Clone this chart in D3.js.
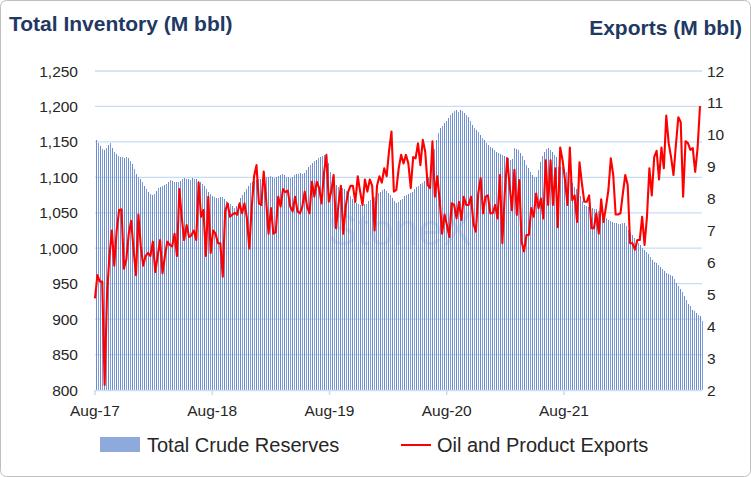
<!DOCTYPE html>
<html>
<head>
<meta charset="utf-8">
<script src="https://cdn.jsdelivr.net/npm/d3@7"></script>
<style>
  body { margin: 0; background: #fff; }
  text { font-family: "Liberation Sans", Arial, sans-serif; }
</style>
</head>
<body>
<svg id="chart" width="751" height="477"></svg>
<script>
// weekly total crude reserves (M bbl)
const reserves = [
  1153,1149,1144,1140,1138,1142,1145,1148,1142,1136,1133,1130,1128,1128,1127,1128,1127,1123,1119,1112,1105,1101,1098,1093,1088,1084,1080,1077,1075,1077,1081,1085,1087,1088,1089,1091,1094,1096,1095,1094,1094,1093,1095,1097,1099,1098,1097,1096,1099,1098,1097,1095,1094,1091,1088,1084,1080,1077,1074,1072,1071,1071,1072,1072,1070,1066,1064,1063,1060,1057,1060,1063,1071,1075,1079,
  1084,1088,1092,1093,1095,1096,1097,1097,1098,1099,1100,1101,1102,1100,1099,1100,1102,1103,1104,1103,1101,1100,1099,1101,1103,1104,1105,1106,1105,1106,1110,1115,1118,1120,1123,1125,1127,1129,1130,1132,1132,1120,1108,1101,1094,1089,1087,1086,1085,1083,1081,1078,1074,1070,1066,1064,1062,1061,1061,1062,1063,1066,1068,1070,1072,1075,1078,1080,1082,1083,1081,1078,1075,1071,1067,1064,1065,1068,
  1070,1073,1075,1077,1078,1080,1083,1087,1088,1090,1092,1095,1098,1101,1110,1125,1140,1153,1163,1169,1172,1176,1179,1184,1188,1191,1193,1195,1192,1195,1193,1191,1188,1185,1180,1174,1170,1167,1164,1160,1156,1152,1148,1146,1143,1141,1139,1136,1134,1133,1132,1130,1129,1127,1125,1126,1141,1140,1138,1134,1130,1124,1118,1113,1108,1103,1101,1100,1110,1122,1130,1136,1140,1141,1139,1136,1132,1128,
  1114,1115,1115,1112,1108,1104,1098,1092,1087,1083,1078,1073,1067,1061,1059,1058,1057,1057,1056,1055,1052,1048,1045,1044,1042,1040,1039,1037,1035,1035,1034,1034,1035,1035,1032,1026,1022,1018,1014,1010,1007,1004,1000,997,995,992,988,984,981,979,977,974,970,968,965,963,962,961,957,951,947,943,938,932,927,922,918,913,911,908,906,904,897
];

// weekly oil and product exports (M bbl)
const exportsSeries = [
  4.87,5.6,5.4,5.4,2.16,5.03,6.2,7.0,5.9,7.0,7.64,7.66,5.8,6.1,6.9,7.3,6.4,5.6,7.5,6.5,5.9,6.2,6.3,6.2,6.65,5.7,6.2,6.7,5.66,6.2,6.65,6.55,6.5,6.9,6.2,8.3,7.4,6.7,7.17,6.8,6.85,7.0,6.7,8.5,7.43,7.64,6.2,8.06,6.3,7.0,6.9,6.6,6.6,5.55,7.6,7.85,7.43,7.5,7.55,7.5,7.85,
  7.54,7.85,7.4,6.44,7.7,8.7,9.05,7.85,7.8,8.85,7.95,6.9,7.7,6.9,6.95,8.06,7.75,8.3,8.2,8.25,7.75,7.6,8.06,7.6,7.54,7.75,8.22,7.75,7.54,8.53,8.06,8.53,8.33,7.85,8.8,9.37,7.9,8.22,8.74,7.07,7.8,8.4,6.9,7.75,8.2,8.4,8.4,7.9,8.7,8.22,7.8,8.6,8.22,8.6,8.4,7.0,8.4,8.7,8.5,8.95,8.7,9.5,10.1,8.22,8.27,8.95,9.37,9.1,
  9.37,9.1,8.33,9.3,9.26,9.73,9.05,9.84,9.47,8.43,8.33,9.8,8.06,8.7,7.95,6.9,7.5,7.17,6.8,7.85,7.8,7.38,7.9,7.33,8.06,7.8,7.8,8.06,7.22,6.96,8.16,8.64,7.54,8.06,8.1,7.54,7.54,7.8,7.38,8.74,6.6,8.16,9.26,8.43,7.64,8.9,7.49,8.58,6.65,6.34,6.86,6.86,7.7,7.43,8.16,7.7,8.0,7.38,9.2,7.8,
  9.2,7.8,8.95,7.1,9.6,9.2,8.58,7.8,9.6,7.95,8.1,7.27,9.14,8.48,7.9,7.9,8.1,7.07,7.07,7.54,6.9,7.98,7.27,7.75,8.27,9.26,8.74,7.5,7.5,7.54,8.16,8.74,8.43,6.6,6.6,6.4,6.7,6.7,7.43,6.55,7.43,8.95,8.1,9.3,9.5,8.6,9.6,8.95,10.6,9.74,9.3,8.74,9.68,10.55,10.4,8.06,9.8,9.74,9.53,9.58,8.84,9.58,10.9
];

const xTickLabels = ["Aug-17", "Aug-18", "Aug-19", "Aug-20", "Aug-21"];
const leftTicks = [800, 850, 900, 950, 1000, 1050, 1100, 1150, 1200, 1250];
const rightTicks = [2, 3, 4, 5, 6, 7, 8, 9, 10, 11, 12];

const svg = d3.select("#chart");
const plotLeft = 95, plotRight = 702, plotTop = 71, plotBottom = 390;

// outer frame
svg.append("rect")
  .attr("x", 0.5).attr("y", 0.5).attr("width", 750).attr("height", 476)
  .attr("rx", 6).attr("fill", "#fff").attr("stroke", "#bfbfbf");

const yL = d3.scaleLinear().domain([800, 1250]).range([plotBottom, plotTop]);
const yR = d3.scaleLinear().domain([2, 12]).range([plotBottom, plotTop]);
// one bar every 2 px so the stripes stay even
const xBar = d3.scaleLinear().domain([0, reserves.length - 1])
  .range([plotLeft + 1, plotLeft + 1 + 2 * (reserves.length - 1)]);
const xLine = d3.scaleLinear().domain([0, exportsSeries.length - 1]).range([plotLeft, plotRight - 2]);
const xTick = d3.scaleLinear().domain([0, 4]).range([plotLeft, 564]);

// gridlines
svg.append("g").selectAll("line").data(leftTicks.slice(1)).join("line")
  .attr("x1", plotLeft).attr("x2", plotRight)
  .attr("y1", d => yL(d)).attr("y2", d => yL(d))
  .attr("stroke", "#c6ddf2").attr("stroke-width", 1.3);

// watermark
svg.append("text").attr("x", 400).attr("y", 245).attr("text-anchor", "middle")
  .attr("font-size", 44).attr("font-family", "Liberation Serif")
  .attr("fill", "#9fb2d4").attr("opacity", 0.35).text("StoneX");

// bars
svg.append("g").attr("shape-rendering", "crispEdges")
  .selectAll("rect").data(reserves).join("rect")
  .attr("x", (d, i) => xBar(i))
  .attr("width", 1)
  .attr("y", d => yL(d))
  .attr("height", d => yL(800) - yL(d))
  .attr("fill", (d, i) => i % 2 ? "#7d9bd6" : "#6a8bcf");

// x axis
svg.append("line").attr("x1", plotLeft).attr("x2", plotRight)
  .attr("y1", plotBottom + 0.5).attr("y2", plotBottom + 0.5)
  .attr("stroke", "#c6ddf2").attr("stroke-width", 1.5);
svg.append("g").selectAll("line").data(xTickLabels).join("line")
  .attr("x1", (d, i) => xTick(i)).attr("x2", (d, i) => xTick(i))
  .attr("y1", plotBottom).attr("y2", plotBottom + 5)
  .attr("stroke", "#c6ddf2").attr("stroke-width", 1.5);
svg.append("g").selectAll("text").data(xTickLabels).join("text")
  .attr("x", (d, i) => xTick(i)).attr("y", 416)
  .attr("text-anchor", "middle").attr("font-size", 15.5).attr("fill", "#262626")
  .text(d => d);

// export line
svg.append("path").datum(exportsSeries)
  .attr("fill", "none").attr("stroke", "#ff0000").attr("stroke-width", 2.1)
  .attr("stroke-linejoin", "round")
  .attr("d", d3.line().x((d, i) => xLine(i)).y(d => yR(d)));

// axis labels
svg.append("g").selectAll("text").data(leftTicks).join("text")
  .attr("x", 78).attr("y", d => yL(d) + 5.5)
  .attr("text-anchor", "end").attr("font-size", 15.5).attr("fill", "#262626")
  .text(d3.format(","));
svg.append("g").selectAll("text").data(rightTicks).join("text")
  .attr("x", 707).attr("y", d => yR(d) + 5.5)
  .attr("font-size", 15.5).attr("fill", "#262626")
  .text(d => d);

// titles
svg.append("text").attr("x", 9).attr("y", 31)
  .attr("font-size", 21).attr("font-weight", "bold").attr("fill", "#1f3864")
  .text("Total Inventory (M bbl)");
svg.append("text").attr("x", 742).attr("y", 35).attr("text-anchor", "end")
  .attr("font-size", 21).attr("font-weight", "bold").attr("fill", "#1f3864")
  .text("Exports (M bbl)");

// legend
svg.append("rect").attr("x", 100).attr("y", 437).attr("width", 40).attr("height", 15)
  .attr("fill", "#8ea9dc");
svg.append("text").attr("x", 147).attr("y", 452).attr("font-size", 20).attr("fill", "#262626")
  .text("Total Crude Reserves");
svg.append("line").attr("x1", 401).attr("x2", 431).attr("y1", 445).attr("y2", 445)
  .attr("stroke", "#ff0000").attr("stroke-width", 2);
svg.append("text").attr("x", 437).attr("y", 452).attr("font-size", 20).attr("fill", "#262626")
  .text("Oil and Product Exports");
</script>
</body>
</html>
